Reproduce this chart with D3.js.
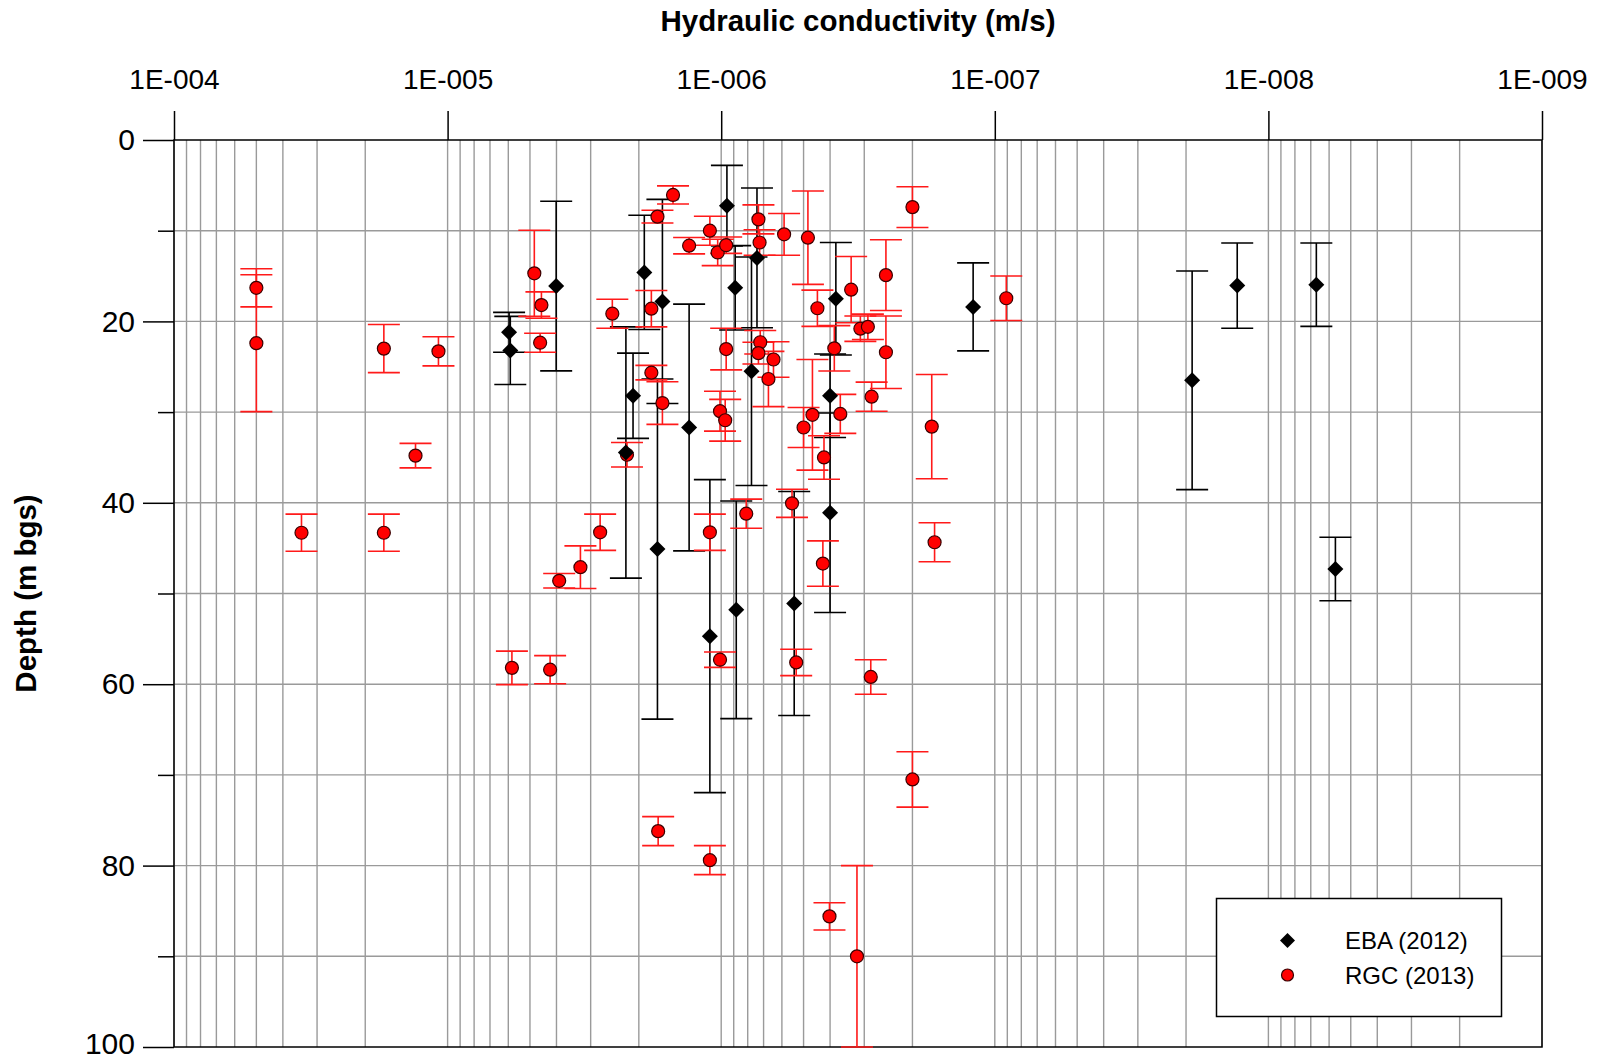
<!DOCTYPE html>
<html>
<head>
<meta charset="utf-8">
<script src="https://cdn.jsdelivr.net/npm/d3@7"></script>
<style>
  html, body { margin: 0; padding: 0; background: #fff; }
  svg { display: block; font-family: "Liberation Sans", Arial, sans-serif; }
</style>
</head>
<body>
<svg id="chart" width="1603" height="1059"></svg>
<script>
// ---------------- DATA ----------------
const seriesNames = ["EBA (2012)", "RGC (2013)"];
const xTickValues = [1e-4, 1e-5, 1e-6, 1e-7, 1e-8, 1e-9];
const xTickLabels = ["1E-004", "1E-005", "1E-006", "1E-007", "1E-008", "1E-009"];
const yTickLabels = [0, 20, 40, 60, 80, 100];
const yMinorTicks = [10, 30, 50, 70, 90];

// EBA (2012): hydraulic conductivity (m/s), depth (m bgs), depth half-range (m)
const ebaK     = [5.96e-6, 5.9e-6, 4.01e-6, 1.91e-6, 1.64e-6, 2.10e-6, 2.23e-6, 1.71e-6, 1.31e-6, 1.10e-6,
                  9.53e-7, 8.89e-7, 8.81e-7, 7.4e-7, 7.75e-7, 5.41e-7, 3.81e-7, 4.0e-7, 4.0e-7, 1.20e-7,
                  1.90e-8, 1.30e-8, 6.68e-9, 5.69e-9];
const ebaDepth = [21.2, 23.2, 16.1, 14.6, 17.8, 28.2, 34.45, 45.1, 31.7, 54.7,
                  7.24, 16.3, 51.8, 13.0, 25.5, 51.1, 17.5, 28.2, 41.1, 18.4,
                  26.5, 16.05, 15.95, 47.3];
const ebaErr   = [2.2, 3.75, 9.35, 6.3, 11.25, 4.7, 13.85, 18.75, 13.6, 17.25,
                  4.44, 4.65, 12.0, 7.7, 12.6, 12.35, 6.2, 4.6, 11.0, 4.85,
                  12.05, 4.7, 4.6, 3.5];

// RGC (2013)
const rgcK     = [5e-5, 5e-5, 1.71e-5, 1.08e-5, 1.31e-5, 3.42e-5, 1.71e-5, 4.82e-6, 4.54e-6, 4.59e-6,
                  2.50e-6, 1.71e-6, 1.50e-6, 1.80e-6, 1.80e-6, 1.64e-6, 1.10e-6, 1.31e-6, 1.03e-6, 9.59e-7,
                  7.31e-7, 7.24e-7, 5.89e-7, 4.82e-7, 3.35e-7, 2.50e-7, 2e-7, 4.45e-7, 3.10e-7, 2.91e-7,
                  2.50e-7, 9.59e-7, 7.2e-7, 7.31e-7, 6.44e-7, 6.72e-7, 3.86e-7, 4.64e-7, 5e-7, 3.67e-7,
                  2.82e-7, 1.70e-7, 1.01e-6, 9.67e-7, 8.1e-7, 5.51e-7, 5.32e-7, 4.25e-7, 2.84e-7, 1.66e-7,
                  1.01e-6, 1.10e-6, 2.21e-6, 2.77e-6, 3.27e-6, 3.91e-6, 5.82e-6, 4.22e-6, 1.70e-6, 1.10e-6,
                  4.02e-7, 3.19e-7, 2e-7, 9.08e-8, 4.21e-7];
const rgcDepth = [16.3, 22.4, 23.0, 23.3, 34.8, 43.3, 43.3, 14.7, 18.2, 22.35,
                  19.15, 8.45, 6.06, 18.6, 25.65, 29.0, 10.0, 11.65, 12.4, 11.6,
                  8.75, 11.3, 10.4, 10.77, 16.5, 14.9, 7.4, 18.55, 20.8, 20.6,
                  23.4, 23.05, 22.3, 23.5, 24.2, 26.35, 22.97, 30.3, 31.7, 30.2,
                  28.3, 31.6, 29.9, 30.9, 41.2, 40.06, 57.6, 46.7, 59.2, 44.35,
                  57.3, 43.25, 34.7, 43.25, 47.1, 48.6, 58.2, 58.4, 76.2, 79.4,
                  85.6, 90.0, 70.5, 17.45, 35.0];
const rgcErr   = [2.1, 7.55, 2.65, 1.6, 1.35, 2.05, 2.05, 4.75, 1.45, 1.05,
                  1.6, 0.7, 1.0, 2.0, 0.8, 2.35, 1.6, 0.9, 1.45, 0.9,
                  1.6, 1.4, 2.3, 5.15, 3.65, 3.9, 2.25, 2.0, 1.4, 1.4,
                  4.0, 2.3, 1.3, 1.2, 1.95, 3.05, 2.5, 6.1, 2.2, 2.15,
                  1.6, 5.75, 2.2, 2.3, 1.6, 1.55, 1.45, 2.5, 1.9, 2.15,
                  0.85, 2.0, 1.35, 2.0, 2.35, 0.8, 1.85, 1.55, 1.6, 1.6,
                  1.5, 10.0, 3.05, 2.45, 2.4];

// ---------------- CHART ----------------
const svg = d3.select("#chart");
const pLeft = 174, pRight = 1542, pTop = 140, pBottom = 1047;

const x = d3.scaleLog().domain([1e-4, 1e-9]).range([pLeft, pRight]);
const y = d3.scaleLinear().domain([0, 100]).range([pTop, pBottom]);

const ebaData = ebaK.map((k, i) => ({k, d: ebaDepth[i], e: ebaErr[i]}));
const rgcData = rgcK.map((k, i) => ({k, d: rgcDepth[i], e: rgcErr[i]}));

const gridColor = "#9a9a9a";

// vertical grid (1..9 per decade)
svg.append("g").selectAll("line").data(x.ticks()).join("line")
  .attr("x1", d => x(d)).attr("x2", d => x(d))
  .attr("y1", pTop).attr("y2", pBottom)
  .attr("stroke", gridColor).attr("stroke-width", 1.4);

// horizontal grid every 10 m
svg.append("g").selectAll("line").data(d3.range(10, 100, 10)).join("line")
  .attr("x1", pLeft).attr("x2", pRight)
  .attr("y1", d => y(d)).attr("y2", d => y(d))
  .attr("stroke", gridColor).attr("stroke-width", 1.4);

// frame
svg.append("rect").attr("x", pLeft).attr("y", pTop)
  .attr("width", pRight - pLeft).attr("height", pBottom - pTop)
  .attr("fill", "none").attr("stroke", "#000").attr("stroke-width", 1.5);

// top axis
const topAxis = svg.append("g").attr("transform", `translate(0,${pTop})`)
  .call(d3.axisTop(x).tickValues(xTickValues).tickSize(29).tickPadding(22)
    .tickFormat((d, i) => xTickLabels[i]));
topAxis.select(".domain").remove();
topAxis.selectAll("line").attr("stroke", "#000").attr("stroke-width", 1.5);
topAxis.selectAll("text").attr("font-size", 28).attr("fill", "#000")
  .attr("font-family", "Liberation Sans, Arial, sans-serif");

// left axis
const leftAxis = svg.append("g").attr("transform", `translate(${pLeft},0)`)
  .call(d3.axisLeft(y).tickValues(yTickLabels).tickSize(31).tickPadding(8));
leftAxis.select(".domain").remove();
leftAxis.selectAll("line").attr("stroke", "#000").attr("stroke-width", 1.5);
leftAxis.selectAll("text").attr("font-size", 30).attr("fill", "#000")
  .attr("font-family", "Liberation Sans, Arial, sans-serif")
  .attr("dy", d => d === 100 ? "0.2em" : "0.32em");

const leftMinor = svg.append("g").attr("transform", `translate(${pLeft},0)`)
  .call(d3.axisLeft(y).tickValues(yMinorTicks).tickSize(16).tickFormat(""));
leftMinor.select(".domain").remove();
leftMinor.selectAll("line").attr("stroke", "#000").attr("stroke-width", 1.5);

// titles
svg.append("text").attr("x", (pLeft + pRight) / 2).attr("y", 31)
  .attr("text-anchor", "middle").attr("font-size", 29.5).attr("font-weight", "bold")
  .text("Hydraulic conductivity (m/s)");
svg.append("text").attr("transform", `translate(36,${(pTop + pBottom) / 2}) rotate(-90)`)
  .attr("text-anchor", "middle").attr("font-size", 29.5).attr("font-weight", "bold")
  .text("Depth (m bgs)");

// error bars
const capHalf = 16;
function errorBars(data, color) {
  const g = svg.append("g").attr("stroke", color).attr("stroke-width", 1.6).attr("fill", "none");
  g.selectAll("path").data(data).join("path")
    .attr("d", d => {
      const cx = x(d.k), y1 = y(d.d - d.e), y2 = y(d.d + d.e);
      return `M${cx},${y1}V${y2}M${cx - capHalf},${y1}H${cx + capHalf}M${cx - capHalf},${y2}H${cx + capHalf}`;
    });
}
errorBars(ebaData, "#000");
errorBars(rgcData, "#ff1a1a");

// RGC circles
svg.append("g").selectAll("circle").data(rgcData).join("circle")
  .attr("cx", d => x(d.k)).attr("cy", d => y(d.d)).attr("r", 6.5)
  .attr("fill", "#ff0000").attr("stroke", "#3a0000").attr("stroke-width", 1.2);

// EBA diamonds
const diamond = s => `M0,${-s}L${s},0L0,${s}L${-s},0Z`;
svg.append("g").selectAll("path").data(ebaData).join("path")
  .attr("transform", d => `translate(${x(d.k)},${y(d.d)})`)
  .attr("d", diamond(8)).attr("fill", "#000");

// legend
const lg = svg.append("g");
lg.append("rect").attr("x", 1216.5).attr("y", 898.5).attr("width", 285).attr("height", 118)
  .attr("fill", "#fff").attr("stroke", "#000").attr("stroke-width", 1.5);
lg.append("path").attr("transform", "translate(1287.5,940.5)").attr("d", diamond(7.5)).attr("fill", "#000");
lg.append("circle").attr("cx", 1287.5).attr("cy", 975).attr("r", 6)
  .attr("fill", "#ff0000").attr("stroke", "#3a0000").attr("stroke-width", 1.2);
lg.append("text").attr("x", 1345).attr("y", 949).attr("font-size", 24).text(seriesNames[0]);
lg.append("text").attr("x", 1345).attr("y", 983.5).attr("font-size", 24).text(seriesNames[1]);
</script>
</body>
</html>
